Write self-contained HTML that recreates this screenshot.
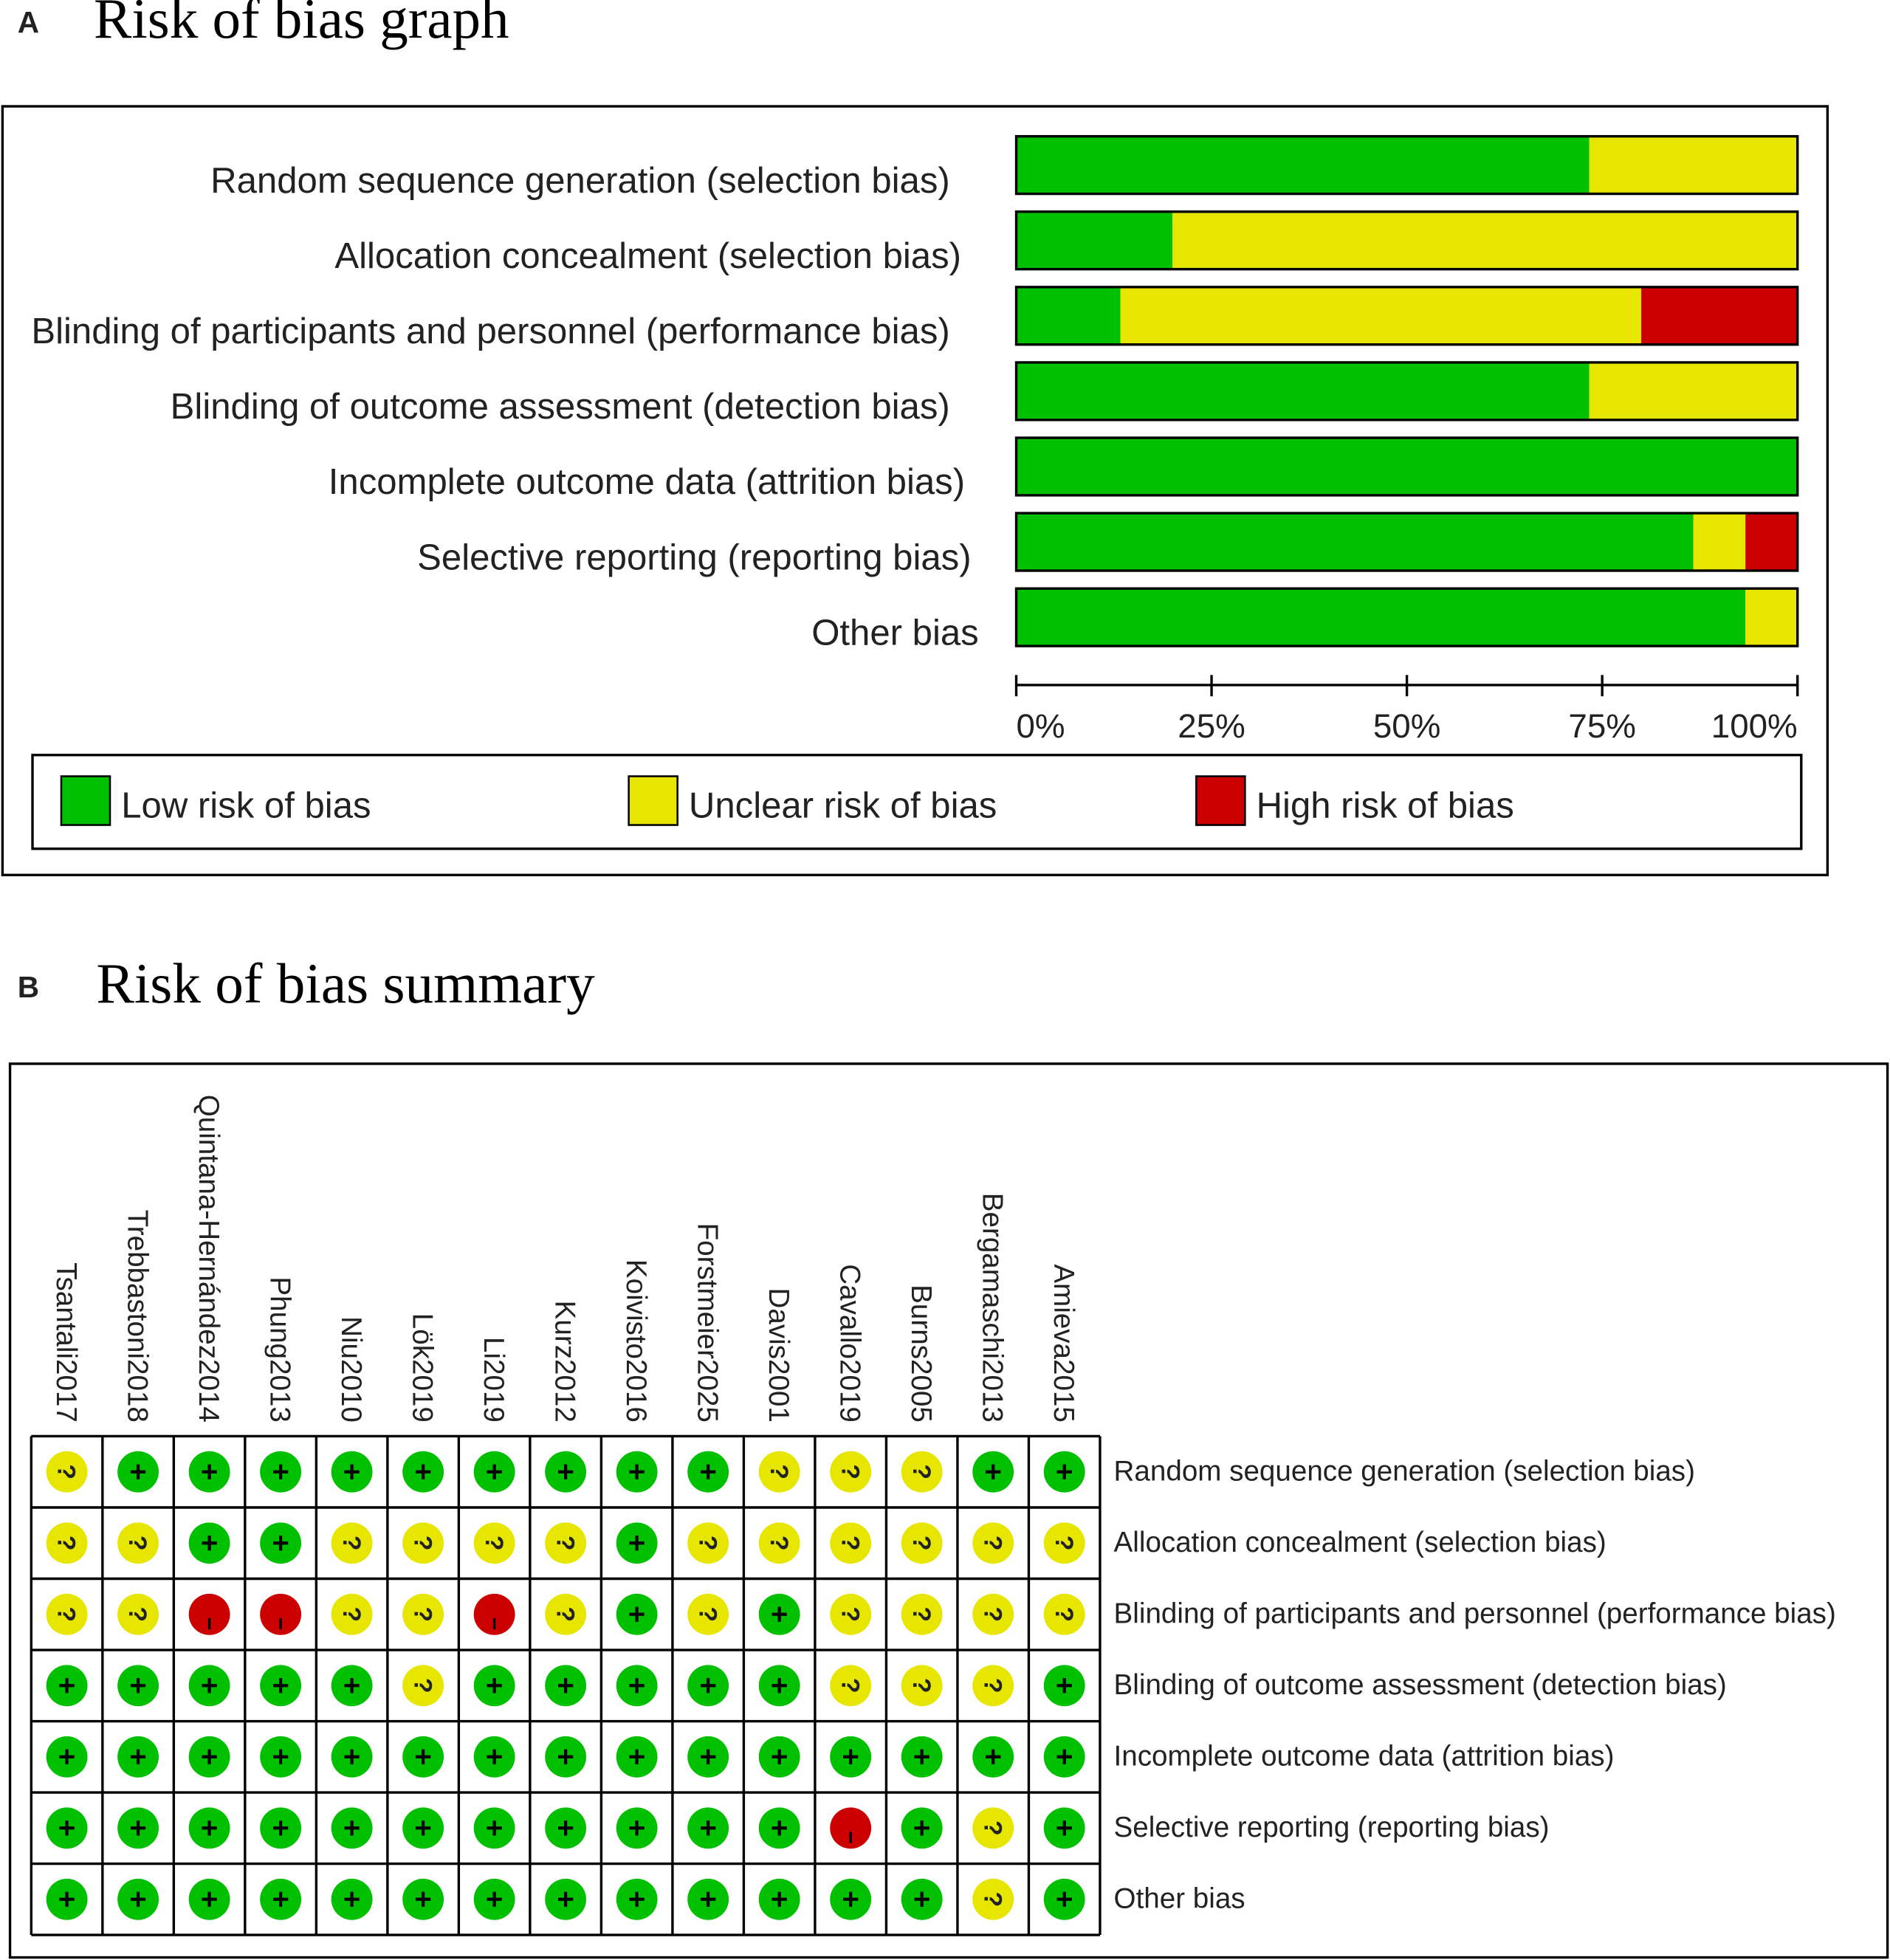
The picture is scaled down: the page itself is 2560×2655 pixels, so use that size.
<!DOCTYPE html>
<html><head><meta charset="utf-8"><style>
html,body{margin:0;padding:0;background:#fff}
svg{display:block}
text{font-family:"Liberation Sans",Arial,sans-serif;fill:#222}
.serif{font-family:"Liberation Serif",serif;fill:#000}
</style></head><body>
<svg id="svg" width="2560" height="2655" viewBox="0 0 1512 1568" xmlns="http://www.w3.org/2000/svg">
<text x="14" y="26" font-size="24" font-weight="bold" fill="#000">A</text>
<text x="75" y="30" class="serif" font-size="45.5">Risk of bias graph</text>
<rect x="2" y="85" width="1460" height="615" fill="none" stroke="#000" stroke-width="2"/>
<g id="graph"></g>
<rect x="26" y="604" width="1415" height="75" fill="none" stroke="#000" stroke-width="2"/>
<g><rect x="49" y="621" width="39" height="39" fill="#00c000" stroke="#000" stroke-width="1.5"/><text x="97" y="654" font-size="29">Low risk of bias</text></g>
<g><rect x="503" y="621" width="39" height="39" fill="#e6e600" stroke="#000" stroke-width="1.5"/><text x="551" y="654" font-size="29">Unclear risk of bias</text></g>
<g><rect x="957" y="621" width="39" height="39" fill="#cc0000" stroke="#000" stroke-width="1.5"/><text x="1005" y="654" font-size="29">High risk of bias</text></g>

<text x="14" y="798" font-size="24" font-weight="bold" fill="#000">B</text>
<text x="77" y="802" class="serif" font-size="45.6">Risk of bias summary</text>
<rect x="8" y="851" width="1502" height="715" fill="none" stroke="#000" stroke-width="2"/>
<g id="summary"></g>
</svg>
<script>
const domains = ["Random sequence generation (selection bias)","Allocation concealment (selection bias)","Blinding of participants and personnel (performance bias)","Blinding of outcome assessment (detection bias)","Incomplete outcome data (attrition bias)","Selective reporting (reporting bias)","Other bias"];
const studies = ["Tsantali2017","Trebbastoni2018","Quintana-Hernández2014","Phung2013","Niu2010","Lök2019","Li2019","Kurz2012","Koivisto2016","Forstmeier2025","Davis2001","Cavallo2019","Burns2005","Bergamaschi2013","Amieva2015"];
const judgments = [
 "UVVVVVVVVVUUUVV",
 "UUVVUUUUVUUUUUU",
 "UUHHUUHUVUVUUUU",
 "VVVVVUVVVVVUUUV",
 "VVVVVVVVVVVVVVV",
 "VVVVVVVVVVVHVUV",
 "VVVVVVVVVVVVVUV"
];
const tickLabels = ["0%","25%","50%","75%","100%"];
const NS="http://www.w3.org/2000/svg";
const col={V:"#00c000",U:"#e6e600",H:"#cc0000"};
function mk(t,a,p){const e=document.createElementNS(NS,t);for(const k in a)e.setAttribute(k,a[k]);p.appendChild(e);return e;}
const labelRight=[760,769,760,760,772,777,783];
// Panel A
const g=document.getElementById('graph');
const x0=813,x1=1438;
const xs=v=>x0+(x1-x0)*v;
domains.forEach((d,i)=>{
  const y=109+i*60.3;
  const s=judgments[i];const n=s.length;
  const cnt={V:0,U:0,H:0};for(const c of s)cnt[c]++;
  const lab=mk('text',{x:labelRight[i],y:y+45,'font-size':29,'text-anchor':'end'},g);
  lab.textContent=d;
  
  
  let acc=0;
  ["V","U","H"].forEach(k=>{
    if(!cnt[k])return;
    const r=mk('rect',{x:xs(acc/n),y:y,width:xs((acc+cnt[k])/n)-xs(acc/n),height:46,fill:col[k]},g);
    
    
    acc+=cnt[k];
  });
  const o=mk('rect',{x:x0,y:y,width:x1-x0,height:46,fill:'none',stroke:'#000','stroke-width':2},g);
  
  
});
const ax=mk('line',{x1:x0,x2:x1,y1:548,y2:548,stroke:'#000','stroke-width':2},g);


tickLabels.forEach((t,i)=>{
  const x=xs(i/4);
  mk('line',{x1:x,x2:x,y1:540,y2:557,stroke:'#000','stroke-width':2},g);
  const tx=mk('text',{x:x,y:590,'font-size':27,'text-anchor':i==0?'start':(i==4?'end':'middle')},g);
  tx.textContent=t;
  
  
});
// Panel B
const sg=document.getElementById('summary');
const gx=25,gy=1149,cw=57;
studies.forEach((s,j)=>{
  const cx=gx+cw*j+cw/2;
  const t=mk('text',{x:0,y:0,'font-size':22.8,'text-anchor':'end',transform:`translate(${cx-8},1138) rotate(90)`},sg);
  t.textContent=s;
  
  
});
domains.forEach((d,i)=>{
  const cy=gy+cw*i+cw/2;
  const t=mk('text',{x:891,y:cy+7,'font-size':22.8},sg);
  t.textContent=d;
  
  
  for(let j=0;j<studies.length;j++){
    const cx=gx+cw*j+cw/2;const k=judgments[i][j];
    const c=mk('circle',{cx:cx,cy:cy,r:16.5,fill:col[k]},sg);
    
    
    if(k==='V'){
      mk('line',{x1:cx-6,x2:cx+6,y1:cy,y2:cy,stroke:'#000','stroke-width':2.5},sg);
      mk('line',{x1:cx,x2:cx,y1:cy-6,y2:cy+6,stroke:'#000','stroke-width':2.5},sg);
    }else if(k==='U'){
      mk('text',{x:0,y:0,'font-size':20,'font-weight':'bold','text-anchor':'middle',fill:'#000',transform:`translate(${cx-7},${cy}) rotate(90)`},sg).textContent='?';
    }else{
      mk('line',{x1:cx,x2:cx,y1:cy+3,y2:cy+12,stroke:'#000','stroke-width':2},sg);
    }
  }
});
for(let j=0;j<=studies.length;j++)mk('line',{x1:gx+cw*j,x2:gx+cw*j,y1:gy,y2:gy+cw*7,stroke:'#000','stroke-width':2},sg);
for(let i=0;i<=7;i++)mk('line',{x1:gx,x2:gx+cw*15,y1:gy+cw*i,y2:gy+cw*i,stroke:'#000','stroke-width':2},sg);
</script>
</body></html>
